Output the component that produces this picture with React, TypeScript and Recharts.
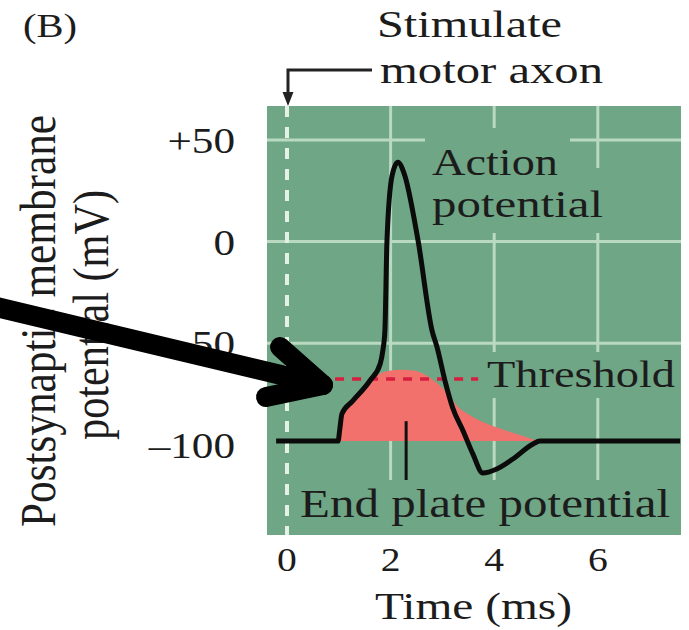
import React from 'react';
import { ComposedChart, Line, Area, XAxis, YAxis, CartesianGrid } from 'recharts';

// ---- data (time in ms, membrane potential in mV) ----
const apTime = [-0.21, 0.985, 1.02, 1.06, 1.27, 1.6, 1.8, 1.85, 1.89, 1.93, 2.03, 2.14, 2.26, 2.53, 2.8, 2.9, 3.05, 3.2, 3.4, 3.59, 3.78, 4.05, 4.36, 4.75, 4.88, 7.59];
const apVoltage = [-98.2, -98.2, -92.2, -84.8, -78.4, -68.5, -60.1, -53.7, -43.8, 0.5, 32.6, 39.0, 33.6, 0.5, -43.8, -52.3, -68.5, -81.9, -93.2, -104.6, -113.9, -111.9, -107.0, -99.6, -98.2, -98.2];

const eppTime = [0.985, 1.06, 1.27, 1.56, 1.89, 2.18, 2.47, 2.76, 3.05, 3.34, 3.59, 3.86, 4.25, 4.54, 4.83];
const eppVoltage = [-98.2, -84.8, -78.4, -69.5, -64.1, -63.1, -63.6, -67.0, -73.4, -82.3, -86.3, -89.7, -93.2, -95.6, -98.2];
const restingPotential = -98.2;

const thresholdTime = [0.6, 3.69];
const thresholdVoltage = [-67.6, -67.6];

const eppMarkerTime = [2.3, 2.3];
const eppMarkerVoltage = [-88.4, -118.0];

const xTicks = [0, 2, 4, 6];
const yTicks = [50, 0, -50, -100];
const xDomain: [number, number] = [-0.386, 7.606];
const yDomain: [number, number] = [-144.4, 66.7];

const zip = (ts: number[], vs: number[]) => ts.map((t, i) => ({ t, v: vs[i] }));
const apData = zip(apTime, apVoltage);
const eppData = zip(eppTime, eppVoltage);
const thresholdData = zip(thresholdTime, thresholdVoltage);
const markerData = zip(eppMarkerTime, eppMarkerVoltage);

// ---- styles ----
const FONT = "'Liberation Serif', 'DejaVu Serif', serif";
const INK = '#1c1c1c';
const GREEN = '#6fa685';
const GRID = '#b9d9c1';
const RED = '#f3716d';

const fmtY = (v: number) => (v > 0 ? `+${v}` : v < 0 ? `\u2013${Math.abs(v)}` : `${v}`);

function XTick(props: any) {
  const { x, y, payload } = props;
  return (
    <text transform={`translate(${x},${y}) scale(1.2,1)`} textAnchor="middle" dy="0.71em"
      fontSize={33} fontFamily={FONT} fill={INK}>{payload.value}</text>
  );
}

function YTick(props: any) {
  const { x, y, payload } = props;
  return (
    <text transform={`translate(${x},${y}) scale(1.2,1)`} textAnchor="end" dy="0.36em"
      fontSize={36} fontFamily={FONT} fill={INK}>{fmtY(payload.value)}</text>
  );
}

const T = (p: { x: number; y: number; size: number; len: number; children: string }) => (
  <text x={p.x} y={p.y} fontSize={p.size} fontFamily={FONT} fill={INK}
    textLength={p.len} lengthAdjust="spacingAndGlyphs">{p.children}</text>
);

export default function App() {
  return (
    <div style={{ position: 'absolute', left: 0, top: 0, width: 689, height: 630, background: '#fff' }}>
      <ComposedChart width={689} height={630} margin={{ top: 106, right: 8, bottom: 0, left: 0 }}>
        <CartesianGrid fill={GREEN} fillOpacity={1} stroke={GRID} strokeWidth={3}
          horizontalValues={[50, 0, -50]} verticalValues={[2, 4, 6]} />
        <CartesianGrid stroke="#e4f1e6" strokeWidth={4} strokeDasharray="11 10"
          horizontal={false} verticalValues={[0]} />
        <XAxis type="number" dataKey="t" domain={xDomain} ticks={xTicks} interval={0}
          axisLine={false} tickLine={false} tickSize={0} tickMargin={13} height={95}
          allowDataOverflow tick={(p: any) => <XTick {...p} />} />
        <YAxis type="number" dataKey="v" domain={yDomain} ticks={yTicks} interval={0}
          axisLine={false} tickLine={false} tickSize={0} tickMargin={32} width={267}
          allowDataOverflow tick={(p: any) => <YTick {...p} />} />
        <Area data={eppData} dataKey="v" type="monotone" baseValue={restingPotential}
          fill={RED} fillOpacity={1} stroke="none" isAnimationActive={false} />
        <Line data={thresholdData} dataKey="v" type="linear" stroke="#d81e3f" strokeWidth={3.5}
          strokeDasharray="9 8" dot={false} isAnimationActive={false} />
        <Line data={markerData} dataKey="v" type="linear" stroke="#111" strokeWidth={3}
          dot={false} isAnimationActive={false} />
        <Line data={apData} dataKey="v" type="monotone" stroke="#0b0b0b" strokeWidth={5}
          dot={false} isAnimationActive={false} />
      </ComposedChart>

      <svg width={689} height={630} style={{ position: 'absolute', left: 0, top: 0, pointerEvents: 'none' }}>
        {/* masks behind in-plot annotations */}
        <rect x={425} y={128} width={145} height={62} fill={GREEN} />
        <rect x={425} y={168} width={185} height={65} fill={GREEN} />
        <rect x={482} y={352} width={199} height={46} fill={GREEN} />
        <rect x={296} y={480} width={385} height={55} fill={GREEN} />

        <T x={23} y={37} size={33} len={54}>(B)</T>
        <T x={377} y={37} size={38} len={185}>Stimulate</T>
        <T x={380} y={83} size={38} len={223}>motor axon</T>
        <path d="M372,70 H288 V96" fill="none" stroke="#222" strokeWidth={3} />
        <polygon points="282.5,92 293.5,92 288,106" fill="#222" />

        <T x={432} y={175} size={38} len={126}>Action</T>
        <T x={432} y={217} size={38} len={171}>potential</T>
        <T x={487} y={387} size={37} len={188}>Threshold</T>
        <T x={300} y={517} size={40} len={370}>End plate potential</T>
        <T x={375} y={619} size={38} len={197}>Time (ms)</T>

        <text transform="translate(55,321) scale(1.22,1) rotate(-90)" textAnchor="middle"
          fontSize={42} fontFamily={FONT} fill={INK} textLength={412} lengthAdjust="spacingAndGlyphs">Postsynaptic membrane</text>
        <text transform="translate(108,315) scale(1.22,1) rotate(-90)" textAnchor="middle"
          fontSize={42} fontFamily={FONT} fill={INK} textLength={250} lengthAdjust="spacingAndGlyphs">potential (mV)</text>

        <path d="M-12,305 L323,385" stroke="#000" strokeWidth={20} strokeLinecap="round" fill="none" />
        <path d="M280,347 L323,385 L266,397" stroke="#000" strokeWidth={20} strokeLinecap="round" strokeLinejoin="round" fill="none" />
      </svg>
    </div>
  );
}
